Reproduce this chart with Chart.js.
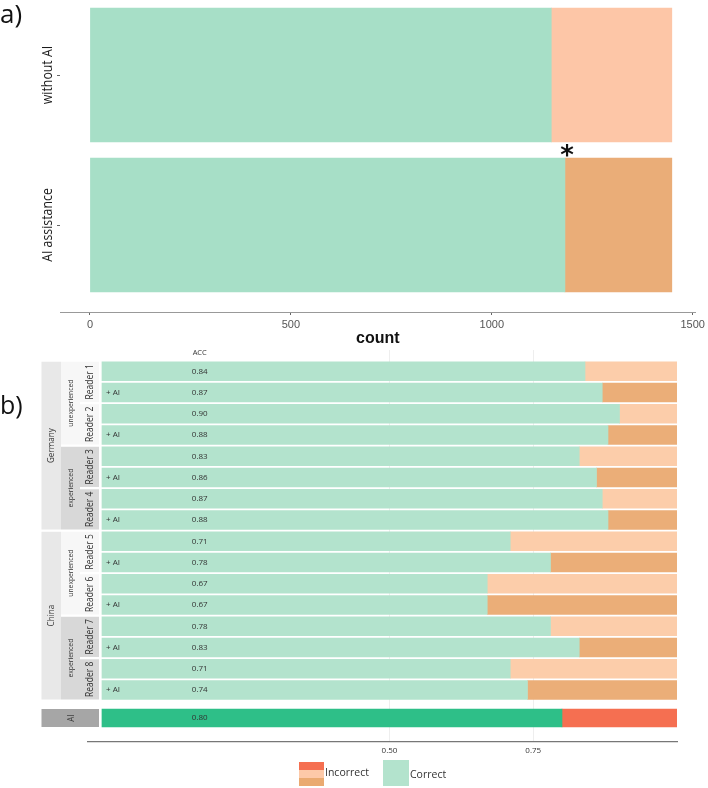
<!DOCTYPE html>
<html>
<head>
<meta charset="utf-8">
<script src="https://cdn.jsdelivr.net/npm/chart.js@4.4.1/dist/chart.umd.min.js"></script>
<style>
html,body{margin:0;padding:0;background:#ffffff;}
#wrap{position:relative;width:708px;height:788px;overflow:hidden;background:#fff;}
canvas{position:absolute;left:0;}
</style>
</head>
<body>
<div id="wrap">
<canvas id="ca" width="708" height="350" style="top:0px"></canvas>
<canvas id="cb" width="708" height="360" style="top:340px"></canvas>
<canvas id="cc" width="708" height="88" style="top:700px"></canvas>
</div>
<script>
// ---------------- panel a data ----------------
const conditions = ['without AI', 'AI assistance'];
const correctCounts = [1148, 1182];
const incorrectCounts = [300, 266];
const countTicks = [0, 500, 1000, 1500];
const significantCondition = 1;   // '*' marker

// ---------------- panel b data ----------------
const readers = ['Reader 1', 'Reader 2', 'Reader 3', 'Reader 4', 'Reader 5', 'Reader 6', 'Reader 7', 'Reader 8'];
const readerCountry = ['Germany', 'Germany', 'Germany', 'Germany', 'China', 'China', 'China', 'China'];
const readerExperience = ['unexperienced', 'unexperienced', 'experienced', 'experienced', 'unexperienced', 'unexperienced', 'experienced', 'experienced'];
const accWithoutAI = [0.84, 0.90, 0.83, 0.87, 0.71, 0.67, 0.78, 0.71];
const accWithAI = [0.87, 0.88, 0.86, 0.88, 0.78, 0.67, 0.83, 0.74];
const aiRowLabel = ['AI'];
const aiAcc = [0.80];
const accTicks = [0.50, 0.75];
const legendLabels = ['Incorrect', 'Correct'];

Chart.defaults.font.family = 'Open Sans';

// colours
const C = {
  greenA: '#A7DFC7', peachA: '#FDC6A7', orangeA: '#EAAD78',
  greenB: '#B3E3CD', peachB: '#FCCDAA', orangeB: '#EBAE78',
  aiGreen: '#2EBF88', aiRed: '#F56F51',
  country: '#E8E8E8', unexp: '#F7F7F7', exp: '#D8D8D8', aiStrip: '#A6A6A6',
  grid: 'rgba(236,236,236,0.9)', text: '#333333'
};

function vText(ctx, text, x, y, font, color, squish) {
  ctx.save();
  ctx.translate(x, y);
  ctx.scale(1, squish);
  ctx.rotate(-Math.PI / 2);
  ctx.font = font; ctx.fillStyle = color;
  ctx.textAlign = 'center'; ctx.textBaseline = 'middle';
  ctx.fillText(text, 0, 0);
  ctx.restore();
}

// ---------------- chart a ----------------
const plugA = {
  id: 'plugA',
  afterDraw(chart) {
    const ctx = chart.ctx, xs = chart.scales.x, ys = chart.scales.y;
    ctx.save();
    ctx.font = '26px "Open Sans"'; ctx.fillStyle = '#111';
    ctx.textAlign = 'left'; ctx.textBaseline = 'alphabetic';
    ctx.fillText('a)', 0, 23);
    conditions.forEach((c, i) => {
      const yp = ys.getPixelForValue(i);
      vText(ctx, c, 48, yp, '14px "Open Sans"', '#1a1a1a', 0.88);
      ctx.strokeStyle = '#666'; ctx.lineWidth = 1;
      ctx.beginPath(); ctx.moveTo(chart.chartArea.left - 3, Math.round(yp) + 0.5); ctx.lineTo(chart.chartArea.left, Math.round(yp) + 0.5); ctx.stroke();
    });
    // significance asterisk
    const ax = xs.getPixelForValue(correctCounts[significantCondition]);
    const ay = (ys.getPixelForValue(significantCondition - 1) + ys.getPixelForValue(significantCondition)) / 2;
    ctx.font = 'bold 26px "DejaVu Sans"'; ctx.fillStyle = '#111';
    ctx.textAlign = 'center'; ctx.textBaseline = 'alphabetic';
    ctx.fillText('*', ax + 2, ay + 14);
    ctx.restore();
  }
};

new Chart(document.getElementById('ca'), {
  type: 'bar',
  data: {
    datasets: [
      { label: 'Correct', data: conditions.map((c, i) => ({ x: correctCounts[i], y: i })), backgroundColor: C.greenA, stack: 's', barThickness: 134, borderWidth: 0 },
      { label: 'Incorrect', data: conditions.map((c, i) => ({ x: incorrectCounts[i], y: i })), backgroundColor: [C.peachA, C.orangeA], stack: 's', barThickness: 134, borderWidth: 0 }
    ]
  },
  options: {
    indexAxis: 'y', responsive: false, animation: false, events: [],
    layout: { padding: { left: 60, right: 11, top: 0, bottom: 0 } },
    plugins: { legend: { display: false }, tooltip: { enabled: false } },
    scales: {
      x: {
        type: 'linear', stacked: true, min: -74.5, max: 1507.5,
        afterBuildTicks: s => { s.ticks = countTicks.map(v => ({ value: v })); },
        afterFit: s => { s.height = 38; },
        ticks: { callback: v => String(v), font: { family: 'Liberation Sans', size: 11 }, color: '#555', padding: 3, maxRotation: 0, autoSkip: false },
        grid: { drawOnChartArea: false, drawTicks: true, tickLength: 3, color: '#666' },
        border: { display: true, color: '#999', width: 1 },
        title: { display: true, text: 'count', color: '#111', font: { family: 'Liberation Sans', size: 16, weight: 'bold' }, padding: { top: 0, bottom: 2 } }
      },
      y: { type: 'linear', stacked: true, reverse: true, offset: false, grid: { offset: false }, min: -0.5, max: 1.58, display: false }
    }
  },
  plugins: [plugA]
});

// ---------------- chart b (readers) ----------------
const rowAcc = [], rowWithAI = [], rowReader = [];
readers.forEach((r, k) => {
  rowAcc.push(accWithoutAI[k]); rowWithAI.push(false); rowReader.push(k);
  rowAcc.push(accWithAI[k]); rowWithAI.push(true); rowReader.push(k);
});
const barB = 19;
const accLabelX = 0.17;

function groupsOf(keyFn, n) {
  const out = []; let start = 0;
  for (let i = 1; i <= n; i++) {
    if (i === n || keyFn(i) !== keyFn(start)) { out.push({ key: keyFn(start), first: start, last: i - 1 }); start = i; }
  }
  return out;
}

const plugB = {
  id: 'plugB',
  afterDraw(chart) {
    const ctx = chart.ctx, xs = chart.scales.x, ys = chart.scales.y;
    const top = i => ys.getPixelForValue(i) - barB / 2;
    const bot = i => ys.getPixelForValue(i) + barB / 2;
    ctx.save();
    ctx.font = '25px "Open Sans"'; ctx.fillStyle = '#111';
    ctx.textAlign = 'left'; ctx.textBaseline = 'alphabetic';
    ctx.fillText('b)', 0, 74);

    // country strips
    groupsOf(i => readerCountry[rowReader[i]], rowAcc.length).forEach(g => {
      const y0 = top(g.first), y1 = bot(g.last);
      ctx.fillStyle = C.country; ctx.fillRect(41.5, y0, 19.5, y1 - y0);
      vText(ctx, g.key, 51.5, (y0 + y1) / 2, '9px "Open Sans"', C.text, 0.9);
    });
    // experience strips
    groupsOf(i => readerCountry[rowReader[i]] + readerExperience[rowReader[i]], rowAcc.length).forEach(g => {
      const y0 = top(g.first), y1 = bot(g.last);
      const exp = readerExperience[rowReader[g.first]];
      ctx.fillStyle = exp === 'experienced' ? C.exp : C.unexp; ctx.fillRect(61, y0, 19, y1 - y0);
      vText(ctx, exp, 70.5, (y0 + y1) / 2, '7.5px "Open Sans"', C.text, 0.9);
    });
    // reader strips
    groupsOf(i => rowReader[i], rowAcc.length).forEach(g => {
      const y0 = top(g.first), y1 = bot(g.last);
      const exp = readerExperience[g.key];
      ctx.fillStyle = exp === 'experienced' ? C.exp : C.unexp; ctx.fillRect(80, y0, 19, y1 - y0);
      vText(ctx, readers[g.key], 89.8, (y0 + y1) / 2, '10px "Open Sans"', C.text, 0.85);
    });

    // ACC header and values
    const vx = xs.getPixelForValue(accLabelX);
    ctx.font = '7.5px "Open Sans"'; ctx.fillStyle = C.text;
    ctx.textAlign = 'center'; ctx.textBaseline = 'middle';
    ctx.fillText('ACC', vx, ys.getPixelForValue(0) - 18.5);
    rowAcc.forEach((a, i) => {
      const yp = ys.getPixelForValue(i);
      ctx.textAlign = 'center'; ctx.font = '8px "Open Sans"';
      ctx.fillText(a.toFixed(2), vx, yp);
      if (rowWithAI[i]) {
        ctx.textAlign = 'left';
        ctx.fillText('+ AI', xs.getPixelForValue(0) + 4, yp);
      }
    });
    ctx.restore();
  }
};

new Chart(document.getElementById('cb'), {
  type: 'bar',
  data: {
    datasets: [
      { label: 'Correct', data: rowAcc.map((a, i) => ({ x: a, y: i })), backgroundColor: C.greenB, stack: 's', barThickness: barB, borderWidth: 0 },
      { label: 'Incorrect', data: rowAcc.map((a, i) => ({ x: +(1 - a).toFixed(4), y: i })), backgroundColor: rowWithAI.map(w => w ? C.orangeB : C.peachB), stack: 's', barThickness: barB, borderWidth: 0 }
    ]
  },
  options: {
    indexAxis: 'y', responsive: false, animation: false, events: [],
    layout: { padding: { left: 88, right: 31, top: 10, bottom: 0 } },
    plugins: { legend: { display: false }, tooltip: { enabled: false } },
    scales: {
      x: {
        type: 'linear', stacked: true, min: -0.0243, max: 1, z: 1,
        afterBuildTicks: s => { s.ticks = accTicks.map(v => ({ value: v })); },
        afterFit: s => { s.height = 0; },
        ticks: { display: false },
        grid: { drawOnChartArea: true, drawTicks: false, color: C.grid, lineWidth: 1 },
        border: { display: false }
      },
      y: { type: 'linear', stacked: true, reverse: true, offset: false, grid: { offset: false }, min: -1, max: 15.47, display: false }
    }
  },
  plugins: [plugB]
});

// ---------------- chart b (AI row + axis + legend) ----------------
const barAI = 18;
const plugC = {
  id: 'plugC',
  afterDraw(chart) {
    const ctx = chart.ctx, xs = chart.scales.x, ys = chart.scales.y;
    ctx.save();
    aiRowLabel.forEach((lab, i) => {
      const yp = ys.getPixelForValue(i);
      ctx.fillStyle = C.aiStrip; ctx.fillRect(41.5, yp - barAI / 2, 57.5, barAI);
      vText(ctx, lab, 71, yp, '9px "Open Sans"', C.text, 0.9);
      ctx.font = '8px "Open Sans"'; ctx.fillStyle = C.text;
      ctx.textAlign = 'center'; ctx.textBaseline = 'middle';
      ctx.fillText(aiAcc[i].toFixed(2), xs.getPixelForValue(accLabelX), yp);
    });
    // legend
    const sw = [C.aiRed, '#FDC9A8', '#EAAA70'];
    sw.forEach((c, k) => { ctx.fillStyle = c; ctx.fillRect(299, 62 + k * 8, 25, 8); });
    ctx.fillStyle = C.greenB; ctx.fillRect(383, 60, 26, 26);
    ctx.font = '10.5px "Open Sans"'; ctx.fillStyle = C.text;
    ctx.textAlign = 'left'; ctx.textBaseline = 'middle';
    ctx.fillText(legendLabels[0], 325, 73);
    ctx.fillText(legendLabels[1], 410, 75);
    ctx.restore();
  }
};

new Chart(document.getElementById('cc'), {
  type: 'bar',
  data: {
    datasets: [
      { label: 'Correct', data: aiAcc.map((a, i) => ({ x: a, y: i })), backgroundColor: C.aiGreen, stack: 's', barThickness: barAI, borderWidth: 0 },
      { label: 'Incorrect', data: aiAcc.map((a, i) => ({ x: +(1 - a).toFixed(4), y: i })), backgroundColor: C.aiRed, stack: 's', barThickness: barAI, borderWidth: 0 }
    ]
  },
  options: {
    indexAxis: 'y', responsive: false, animation: false, events: [],
    layout: { padding: { left: 88, right: 31, top: 0, bottom: 0 } },
    plugins: { legend: { display: false }, tooltip: { enabled: false } },
    scales: {
      x: {
        type: 'linear', stacked: true, min: -0.0243, max: 1, z: 1,
        afterBuildTicks: s => { s.ticks = accTicks.map(v => ({ value: v })); },
        afterFit: s => { s.height = 46.3; },
        ticks: { callback: v => Number(v).toFixed(2), font: { family: 'Open Sans', size: 8 }, color: C.text, padding: 4, maxRotation: 0, autoSkip: false },
        grid: { drawOnChartArea: true, drawTicks: false, color: C.grid, lineWidth: 1 },
        border: { display: true, color: '#777', width: 1.2 }
      },
      y: { type: 'linear', stacked: true, reverse: true, offset: false, grid: { offset: false }, min: -1, max: 1.3165, display: false }
    }
  },
  plugins: [plugC]
});
</script>
</body>
</html>
